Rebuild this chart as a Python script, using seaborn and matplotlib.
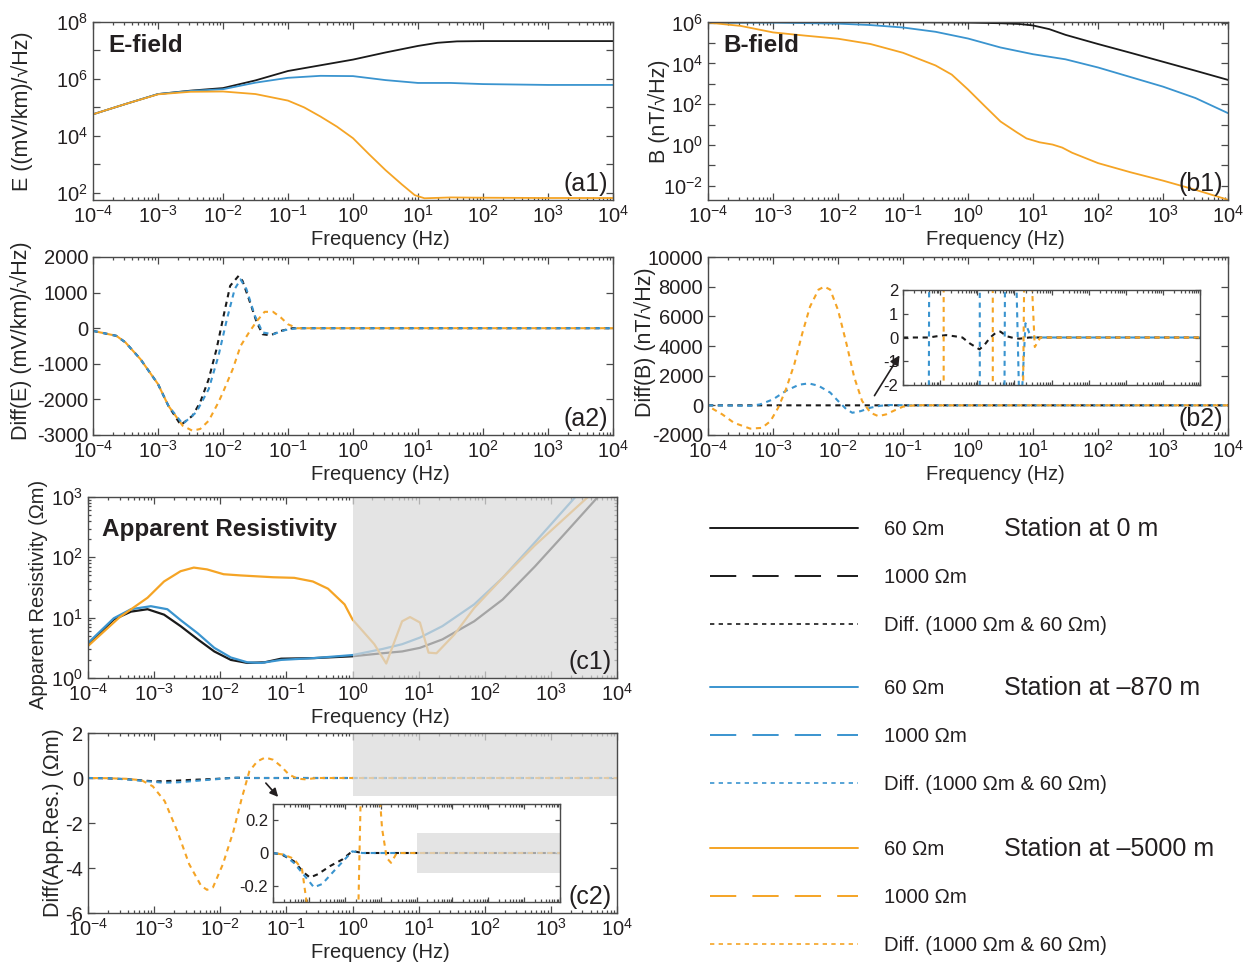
import numpy as np
import seaborn as sns
import matplotlib
matplotlib.use("Agg")
import matplotlib.pyplot as plt
from matplotlib.ticker import LogLocator, NullLocator, NullFormatter, FuncFormatter
from matplotlib.lines import Line2D

sns.set_theme(style="ticks")
plt.rcParams["font.family"] = ["Liberation Sans", "DejaVu Sans"]
plt.rcParams["mathtext.fontset"] = "custom"
plt.rcParams["mathtext.rm"] = "Liberation Sans"
plt.rcParams["mathtext.default"] = "regular"
plt.rcParams["axes.unicode_minus"] = False
plt.rcParams["text.color"] = "#231f20"

C_K = "#1a1a1a"   # station at 0 m
C_B = "#3a94cf"   # station at -870 m
C_O = "#f5a425"   # station at -5000 m
FS = 14.5
FS_Y = 15.5

# ---------------- data (log10 frequency) ----------------
# (a1) E-field amplitude, log10 of (mV/km)/sqrt(Hz)
a1_k_lf = [-4, -3.5, -3, -2.5, -2, -1.5, -1, -0.5, 0, 0.5, 1, 1.3, 1.6, 2, 3, 4]
a1_k = [4.76, 5.12, 5.47, 5.59, 5.68, 5.95, 6.28, 6.48, 6.68, 6.93, 7.16, 7.27, 7.32, 7.33, 7.33, 7.33]
a1_b_lf = [-4, -3.5, -3, -2.5, -2, -1.5, -1, -0.5, 0, 0.5, 1, 1.5, 2, 3, 4]
a1_b = [4.76, 5.12, 5.47, 5.58, 5.64, 5.87, 6.04, 6.11, 6.1, 5.96, 5.86, 5.86, 5.82, 5.79, 5.79]
a1_o_lf = [-4, -3.5, -3, -2.5, -2, -1.5, -1, -0.75, -0.5, -0.25, 0, 0.25, 0.5, 0.75, 0.95, 1.1, 1.5, 2, 3, 4]
a1_o = [4.76, 5.12, 5.46, 5.55, 5.56, 5.47, 5.24, 5.0, 4.68, 4.33, 3.92, 3.35, 2.8, 2.3, 1.92, 1.81, 1.84, 1.83, 1.82, 1.82]

# (b1) B-field amplitude, log10 of nT/sqrt(Hz)
b1_k_lf = [-4, -3, -2, -1, 0, 0.5, 0.8, 1, 1.25, 1.5, 2, 2.5, 3, 3.5, 4]
b1_k = [6.0, 6.02, 6.02, 6.02, 6.0, 5.97, 5.93, 5.86, 5.68, 5.4, 4.95, 4.52, 4.08, 3.64, 3.19]
b1_b_lf = [-4, -3, -2, -1.5, -1, -0.5, 0, 0.5, 1, 1.5, 2, 2.5, 3, 3.5, 4]
b1_b = [6.0, 6.0, 5.95, 5.88, 5.76, 5.55, 5.22, 4.78, 4.45, 4.2, 3.8, 3.33, 2.86, 2.3, 1.56]
b1_o_lf = [-4, -3.5, -3, -2.5, -2, -1.5, -1, -0.5, -0.25, 0, 0.25, 0.5, 0.75, 0.9, 1.1, 1.3, 1.45, 1.6, 2, 2.5, 3, 3.5, 4]
b1_o = [6.0, 5.84, 5.52, 5.36, 5.21, 4.95, 4.52, 3.9, 3.45, 2.72, 1.93, 1.15, 0.62, 0.32, 0.13, 0.02, -0.13, -0.38, -0.89, -1.34, -1.75, -2.2, -2.69]

# (a2) Diff(E)
a2_k_lf = [-4, -3.64, -3.5, -3.27, -3.0, -2.84, -2.65, -2.47, -2.35, -2.22, -2.1, -1.98, -1.89, -1.76, -1.7, -1.6, -1.48, -1.39, -1.27, -1.11, -0.93, 0, 4]
a2_k = [-75, -215, -400, -870, -1570, -2180, -2720, -2460, -2080, -1430, -590, 440, 1190, 1470, 1330, 810, 160, -170, -200, -75, 0, 0, 0]
a2_b_lf = [-4, -3.64, -3.5, -3.27, -3.0, -2.84, -2.62, -2.41, -2.22, -2.07, -1.94, -1.82, -1.73, -1.64, -1.51, -1.39, -1.23, -1.05, -0.86, 0, 4]
a2_b = [-75, -215, -400, -870, -1570, -2180, -2690, -2360, -1710, -780, 250, 1100, 1370, 1100, 350, -120, -170, -55, 0, 0, 0]
a2_o_lf = [-4, -3.64, -3.5, -3.27, -3.0, -2.84, -2.62, -2.47, -2.35, -2.22, -2.07, -2.0, -1.85, -1.73, -1.6, -1.48, -1.36, -1.23, -1.11, -1.0, -0.86, 0, 4]
a2_o = [-75, -215, -400, -870, -1570, -2180, -2740, -2880, -2830, -2600, -2080, -1800, -1150, -500, -120, 200, 460, 460, 300, 110, 0, 0, 0]

# (b2) Diff(B)
b2_k_lf = [-4, -3.3, -3.1, -2.84, -2.6, -2.4, -2.2, -1.94, -1.8, -1.65, -1.5, -1.38, -1.2, -1.0, -0.86, -0.6, 0, 4]
b2_k = [0, 0, 0.05, 0.1, 0.05, 0, -0.25, -0.5, -0.3, 0, 0.2, 0.25, 0.05, -0.03, -0.05, 0, 0, 0]
b2_b_lf = [-4, -3.6, -3.35, -3.2, -3.0, -2.8, -2.6, -2.45, -2.3, -2.12, -2.0, -1.87, -1.78, -1.65, -1.5, -1.35, -1.2, -1.0, -0.85, -0.7, -0.6, -0.5, 0, 4]
b2_b = [-5, -15, -30, 60, 400, 980, 1390, 1480, 1320, 860, 300, -270, -500, -390, -160, -30, 20, 6, -4, 0.6, 0.2, 0, 0, 0]
b2_o_lf = [-4, -3.78, -3.6, -3.35, -3.17, -3.04, -2.92, -2.8, -2.67, -2.55, -2.43, -2.3, -2.21, -2.12, -2.0, -1.87, -1.75, -1.63, -1.5, -1.38, -1.26, -1.13, -1.0, -0.88, -0.7, -0.55, -0.45, -0.3, 0, 4]
b2_o = [-50, -610, -1180, -1570, -1520, -1070, -160, 1090, 2800, 4840, 6660, 7800, 8000, 7800, 6430, 4160, 1890, 300, -500, -730, -610, -340, -90, -20, 8, 3, -0.4, 0, 0, 0]

# (c1) apparent resistivity, log10 of Ohm.m
c1_k_lf = [-4, -3.61, -3.35, -3.1, -2.85, -2.6, -2.34, -2.09, -1.84, -1.59, -1.33, -1.08, -0.58, 0.0, 0.45, 0.75, 1.02, 1.36, 1.84, 2.27, 2.76, 3.2, 3.71]
c1_k = [0.55, 0.97, 1.1, 1.14, 1.05, 0.86, 0.64, 0.44, 0.3, 0.25, 0.26, 0.32, 0.33, 0.36, 0.41, 0.44, 0.5, 0.64, 0.94, 1.3, 1.85, 2.38, 3.0]
c1_b_lf = [-4, -3.61, -3.35, -3.05, -2.8, -2.6, -2.34, -2.09, -1.84, -1.59, -1.38, -1.08, -0.58, 0.0, 0.45, 0.75, 1.02, 1.36, 1.84, 2.27, 2.76, 3.37]
c1_b = [0.58, 0.99, 1.14, 1.19, 1.14, 0.96, 0.74, 0.5, 0.34, 0.26, 0.25, 0.3, 0.33, 0.38, 0.48, 0.56, 0.67, 0.86, 1.22, 1.66, 2.25, 3.0]
c1_o_lf = [-4, -3.53, -3.1, -2.85, -2.6, -2.4, -2.2, -1.95, -1.69, -1.2, -0.88, -0.6, -0.37, -0.12, 0.0, 0.33, 0.51, 0.75, 0.87, 1.02, 1.15, 1.27, 1.54, 1.84, 2.27, 2.76, 3.56]
c1_o = [0.53, 1.0, 1.33, 1.6, 1.77, 1.83, 1.8, 1.72, 1.7, 1.67, 1.66, 1.6, 1.48, 1.22, 0.97, 0.56, 0.24, 0.94, 1.01, 0.92, 0.42, 0.41, 0.72, 1.16, 1.66, 2.2, 3.0]

# (c2) Diff(App.Res.)
c2_k_lf = [-4, -3.75, -3.42, -3.14, -2.97, -2.75, -2.41, -2.07, -1.85, -1.74, -1.51, 0, 4]
c2_k = [0, -0.01, -0.05, -0.12, -0.15, -0.13, -0.08, -0.04, 0, 0.01, 0, 0, 0]
c2_b_lf = [-4, -3.7, -3.42, -3.08, -2.86, -2.63, -2.3, -1.96, -1.79, -1.51, 0, 4]
c2_b = [0, -0.01, -0.06, -0.15, -0.21, -0.19, -0.11, -0.03, 0.01, 0, 0, 0]
c2_o_lf = [-4, -3.7, -3.42, -3.19, -3.02, -2.84, -2.65, -2.47, -2.29, -2.2, -2.11, -1.96, -1.8, -1.68, -1.56, -1.44, -1.32, -1.2, -1.08, -0.96, -0.83, -0.71, -0.55, 0, 4]
c2_o = [0, -0.01, -0.035, -0.1, -0.37, -1.03, -2.36, -3.83, -4.79, -4.97, -4.86, -3.83, -2.36, -0.96, 0.3, 0.74, 0.91, 0.81, 0.52, 0.15, -0.03, -0.06, 0, 0, 0]

# shaded (unreliable) band
shade_f = [1, 1e4]
shade_c2 = [-0.8, 2]
shade_c2_inset = [-0.12, 0.12]

legend_groups = [("Station at 0 m", C_K), ("Station at \u2013870 m", C_B), ("Station at \u20135000 m", C_O)]
legend_labels = ["60 \u03a9m", "1000 \u03a9m", "Diff. (1000 \u03a9m & 60 \u03a9m)"]

DIFF_LS_B = (0, (2.5, 2.2))
DIFF_LS_O = (2.35, (2.5, 2.2))
SHADE = "#dadada"


def draw(ax, lf, v, color, ls="-", lw=1.3, logy=False, z=2):
    x = 10.0 ** np.asarray(lf, dtype=float)
    y = 10.0 ** np.asarray(v, dtype=float) if logy else np.asarray(v, dtype=float)
    sns.lineplot(x=x, y=y, ax=ax, color=color, linestyle=ls, lw=lw, zorder=z, errorbar=None)


def style(ax, xlabels=True, fs=FS):
    ax.set_xscale("log")
    ax.set_xlim(1e-4, 1e4)
    ax.xaxis.set_major_locator(LogLocator(base=10, numticks=20))
    ax.xaxis.set_minor_locator(LogLocator(base=10, subs=np.arange(2, 10), numticks=200))
    ax.xaxis.set_minor_formatter(NullFormatter())
    if not xlabels:
        ax.xaxis.set_major_formatter(NullFormatter())
    ax.tick_params(which="both", direction="in", top=True, right=True, color="#4a4a4a",
                   labelcolor="#231f20", labelsize=fs, width=0.9)
    ax.tick_params(which="major", length=5)
    ax.tick_params(which="minor", length=2.5)
    for s in ax.spines.values():
        s.set_color("#4a4a4a")
        s.set_linewidth(1.0)
        s.set_zorder(10)
    ax.set_xlabel("")
    ax.set_ylabel("")


def even_decades(v, pos):
    k = int(round(np.log10(v)))
    return f"$10^{{{k}}}$" if k % 2 == 0 else ""


fig = plt.figure(figsize=(12.57, 9.72), dpi=100)
W, H = 1257.0, 972.0


def box(l, t, r, b):
    return [l / W, 1 - b / H, (r - l) / W, (b - t) / H]


ax_a1 = fig.add_axes(box(93, 22, 613, 200))
ax_a2 = fig.add_axes(box(93, 257, 613, 435))
ax_b1 = fig.add_axes(box(708, 22, 1228, 200))
ax_b2 = fig.add_axes(box(708, 257, 1228, 435))
ax_c1 = fig.add_axes(box(88, 497, 617, 678))
ax_c2 = fig.add_axes(box(88, 733, 617, 913))

# ---- (a1)
draw(ax_a1, a1_k_lf, a1_k, C_K, logy=True)
draw(ax_a1, a1_b_lf, a1_b, C_B, logy=True)
draw(ax_a1, a1_o_lf, a1_o, C_O, logy=True)
style(ax_a1)
ax_a1.set_yscale("log")
ax_a1.set_ylim(10 ** 1.75, 1e8)
ax_a1.yaxis.set_major_locator(LogLocator(base=10, numticks=20))
ax_a1.yaxis.set_minor_locator(NullLocator())
ax_a1.yaxis.set_major_formatter(FuncFormatter(even_decades))
ax_a1.set_ylabel("E ((mV/km)/\u221aHz)", fontsize=FS_Y)
ax_a1.yaxis.set_label_coords(-0.115, 0.5)
ax_a1.text(0.029, 0.87, "E-field", transform=ax_a1.transAxes, fontsize=17.5, fontweight="bold", va="center")

# ---- (b1)
draw(ax_b1, b1_k_lf, b1_k, C_K, logy=True)
draw(ax_b1, b1_b_lf, b1_b, C_B, logy=True)
draw(ax_b1, b1_o_lf, b1_o, C_O, logy=True)
style(ax_b1)
ax_b1.set_yscale("log")
ax_b1.set_ylim(10 ** -2.7, 10 ** 6.03)
ax_b1.yaxis.set_major_locator(LogLocator(base=10, numticks=20))
ax_b1.yaxis.set_minor_locator(NullLocator())
ax_b1.yaxis.set_major_formatter(FuncFormatter(even_decades))
ax_b1.set_ylabel("B (nT/\u221aHz)", fontsize=FS_Y)
ax_b1.yaxis.set_label_coords(-0.073, 0.5)
ax_b1.text(0.029, 0.87, "B-field", transform=ax_b1.transAxes, fontsize=17.5, fontweight="bold", va="center")

# ---- (a2)
draw(ax_a2, a2_k_lf, a2_k, C_K, ls=DIFF_LS_B, lw=1.5)
draw(ax_a2, a2_b_lf, a2_b, C_B, ls=DIFF_LS_B, lw=1.5)
draw(ax_a2, a2_o_lf, a2_o, C_O, ls=DIFF_LS_O, lw=1.5)
style(ax_a2)
ax_a2.set_ylim(-3000, 2000)
ax_a2.set_yticks([-3000, -2000, -1000, 0, 1000, 2000])
ax_a2.set_ylabel("Diff(E) (mV/km)/\u221aHz)", fontsize=FS_Y)
ax_a2.yaxis.set_label_coords(-0.117, 0.53)

# ---- (b2)
draw(ax_b2, b2_k_lf, b2_k, C_K, ls=DIFF_LS_B, lw=1.5)
draw(ax_b2, b2_b_lf, b2_b, C_B, ls=DIFF_LS_B, lw=1.5)
draw(ax_b2, b2_o_lf, b2_o, C_O, ls=DIFF_LS_O, lw=1.5)
style(ax_b2)
ax_b2.set_ylim(-2000, 10000)
ax_b2.set_yticks([-2000, 0, 2000, 4000, 6000, 8000, 10000])
ax_b2.set_ylabel("Diff(B) (nT/\u221aHz)", fontsize=FS_Y)
ax_b2.yaxis.set_label_coords(-0.1, 0.52)

ins_b2 = fig.add_axes(box(903, 290, 1200, 385))
draw(ins_b2, b2_k_lf, b2_k, C_K, ls=DIFF_LS_B, lw=1.5)
draw(ins_b2, b2_b_lf, b2_b, C_B, ls=DIFF_LS_B, lw=1.5)
draw(ins_b2, b2_o_lf, b2_o, C_O, ls=DIFF_LS_O, lw=1.5)
style(ins_b2, xlabels=False, fs=12)
ins_b2.set_ylim(-2, 2)
ins_b2.set_yticks([-2, -1, 0, 1, 2])
ins_b2.tick_params(which="major", length=3.5)
ins_b2.tick_params(which="minor", length=2)

# ---- (c1)
draw(ax_c1, c1_k_lf, c1_k, C_K, lw=1.6, logy=True)
draw(ax_c1, c1_b_lf, c1_b, C_B, lw=1.6, logy=True)
draw(ax_c1, c1_o_lf, c1_o, C_O, lw=1.6, logy=True)
style(ax_c1)
ax_c1.set_yscale("log")
ax_c1.set_ylim(1, 1000)
ax_c1.yaxis.set_major_locator(LogLocator(base=10, numticks=10))
ax_c1.yaxis.set_minor_locator(LogLocator(base=10, subs=np.arange(2, 10), numticks=100))
ax_c1.yaxis.set_minor_formatter(NullFormatter())
ax_c1.axvspan(shade_f[0], shade_f[1], color=SHADE, alpha=0.72, lw=0, zorder=5)
ax_c1.set_ylabel("Apparent Resistivity (\u03a9m)", fontsize=14.5)
ax_c1.yaxis.set_label_coords(-0.076, 0.46)
ax_c1.text(0.026, 0.82, "Apparent Resistivity", transform=ax_c1.transAxes, fontsize=17.5,
           fontweight="bold", va="center", zorder=8)

# ---- (c2)
draw(ax_c2, c2_k_lf, c2_k, C_K, ls=DIFF_LS_B, lw=1.5)
draw(ax_c2, c2_b_lf, c2_b, C_B, ls=DIFF_LS_B, lw=1.5)
draw(ax_c2, c2_o_lf, c2_o, C_O, ls=DIFF_LS_O, lw=1.5)
style(ax_c2)
ax_c2.fill_between(shade_f, shade_c2[0], shade_c2[1], color=SHADE, alpha=0.72, lw=0, zorder=5)
ax_c2.set_ylim(-6, 2)
ax_c2.set_yticks([-6, -4, -2, 0, 2])
ax_c2.set_ylabel("Diff(App.Res.) (\u03a9m)", fontsize=FS_Y)
ax_c2.yaxis.set_label_coords(-0.045, 0.5)

ins_c2 = fig.add_axes(box(273, 804, 560, 902))
draw(ins_c2, c2_k_lf, c2_k, C_K, ls=DIFF_LS_B, lw=1.5)
draw(ins_c2, c2_b_lf, c2_b, C_B, ls=DIFF_LS_B, lw=1.5)
draw(ins_c2, c2_o_lf, c2_o, C_O, ls=DIFF_LS_O, lw=1.5)
style(ins_c2, xlabels=False, fs=12)
ins_c2.fill_between(shade_f, shade_c2_inset[0], shade_c2_inset[1], color=SHADE, alpha=0.72, lw=0, zorder=5)
ins_c2.set_ylim(-0.3, 0.3)
ins_c2.set_yticks([-0.2, 0, 0.2])
ins_c2.set_yticklabels(["-0.2", "0", "0.2"])
ins_c2.tick_params(which="major", length=3.5)
ins_c2.tick_params(which="minor", length=2)

# panel tags and x labels
for ax, tag in [(ax_a1, "(a1)"), (ax_a2, "(a2)"), (ax_b1, "(b1)"), (ax_b2, "(b2)"), (ax_c1, "(c1)"), (ax_c2, "(c2)")]:
    ax.text(0.99, 0.02, tag, transform=ax.transAxes, ha="right", va="bottom", fontsize=18, zorder=12)
    ax.set_xlabel("Frequency (Hz)", fontsize=FS, labelpad=2)
    ax.xaxis.label.set_x(0.552)

# arrows pointing to the insets
ax_b2.annotate("", xy=(901 / W, 1 - 353 / H), xytext=(873 / W, 1 - 398 / H),
               xycoords="figure fraction", textcoords="figure fraction",
               arrowprops=dict(arrowstyle="-|>", color="#231f20", lw=1.2, mutation_scale=14))
ax_c2.annotate("", xy=(280 / W, 1 - 799 / H), xytext=(264 / W, 1 - 781 / H),
               xycoords="figure fraction", textcoords="figure fraction",
               arrowprops=dict(arrowstyle="-|>", color="#231f20", lw=1.2, mutation_scale=12))

# legend: one block per station
group_tops = [520, 679, 840]
for (station, col), top in zip(legend_groups, group_tops):
    handles = [
        Line2D([], [], color=col, lw=1.4, ls="-"),
        Line2D([], [], color=col, lw=1.4, ls=(0, (13.5, 8.3))),
        Line2D([], [], color=col, lw=1.2, ls=(0, (2.6, 2.6))),
    ]
    fig.legend(handles, legend_labels, loc="upper left", bbox_to_anchor=(710 / W, 1 - top / H),
               frameon=False, fontsize=14.7, handlelength=7.25, handletextpad=1.25,
               labelspacing=1.42, borderpad=0, borderaxespad=0)
    fig.text(1004 / W, 1 - (top + 9) / H, station, fontsize=18, va="center", ha="left")

fig.savefig("out.png", dpi=100)
